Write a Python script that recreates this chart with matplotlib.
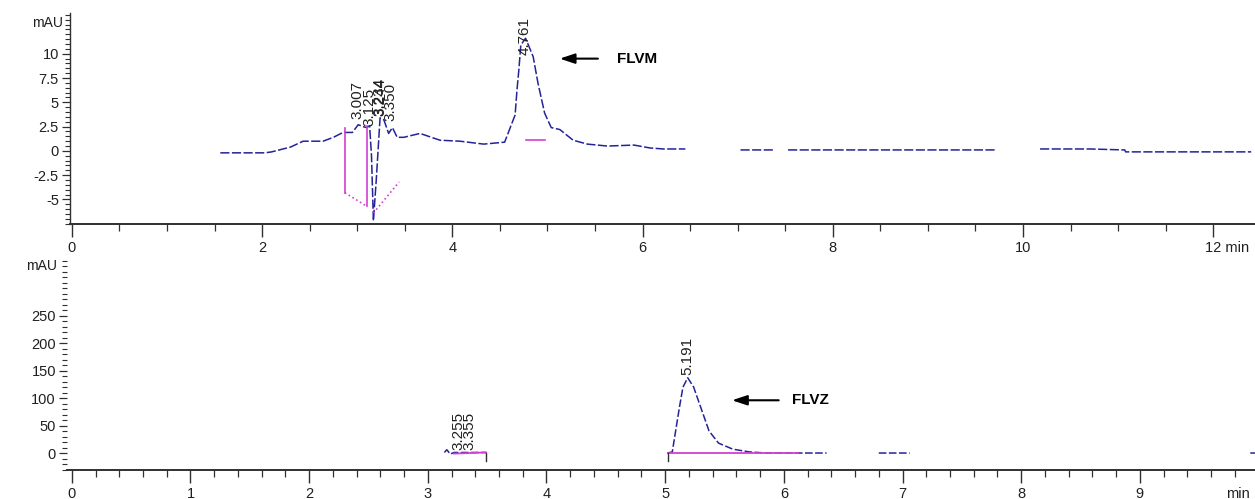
import numpy as np
import matplotlib
matplotlib.use("Agg")
import matplotlib.pyplot as plt
from matplotlib.ticker import MultipleLocator, FixedLocator, FixedFormatter
from matplotlib.transforms import blended_transform_factory

plt.rcParams['font.family'] = ['Liberation Sans', 'DejaVu Sans']

nan = np.nan
# ---------------- top chromatogram (FLVM) ----------------
top_t = [1.56, 2.03, 2.10, 2.30, 2.43, 2.64, 2.75, 2.85, 2.95, 3.01, 3.06, 3.10, 3.13,
         3.15, 3.17, 3.20, 3.24, 3.28, 3.33, 3.37, 3.42, 3.49, 3.66, 3.87, 4.08, 4.33,
         4.55, 4.66, 4.68, 4.70, 4.72, 4.77, 4.85, 4.90, 4.97, 5.04, 5.13, 5.27, 5.42,
         5.63, 5.91, 6.08, 6.22, 6.45, nan, 7.03, 7.37, nan, 7.53, 9.72, nan, 10.18,
         10.70, 11.07, 11.08, 12.40]
top_y = [-0.2, -0.2, -0.1, 0.4, 1.0, 1.0, 1.4, 1.9, 1.9, 2.7, 2.5, 2.4, 2.6,
         -0.5, -7.2, -3.0, 3.4, 3.2, 1.8, 2.4, 1.4, 1.4, 1.8, 1.1, 1.0, 0.7,
         0.9, 3.7, 6.3, 8.4, 10.9, 11.6, 9.7, 7.0, 3.9, 2.4, 2.2, 1.1, 0.7,
         0.5, 0.6, 0.3, 0.2, 0.2, nan, 0.1, 0.1, nan, 0.1, 0.1, nan, 0.2,
         0.2, 0.1, -0.1, -0.1]
top_peak_rt = [3.007, 3.125, 3.234, 3.244, 3.350, 4.761]
top_peak_lab = ['3.007', '3.125', '3.234', '3.244', '3.350', '4.761']
top_peak_ytext = [3.3, 2.6, 3.6, 3.6, 3.1, 9.9]
# integration baselines (x0, y0, x1, y1, style)
top_base_x0 = [2.87, 2.87, 3.10, 3.17, 4.77]
top_base_y0 = [2.4, -4.3, 2.6, -6.4, 1.1]
top_base_x1 = [2.87, 3.10, 3.10, 3.44, 4.97]
top_base_y1 = [-4.3, -5.7, -5.7, -3.2, 1.1]
top_base_ls = ['-', ':', '-', ':', '-']

top_yticks = [-5, -2.5, 0, 2.5, 5, 7.5, 10]
top_yticklabels = ['-5', '-2.5', '0', '2.5', '5', '7.5', '10']
top_xticks = [0, 2, 4, 6, 8, 10, 12]
top_xticklabels = ['0', '2', '4', '6', '8', '10', '']
top_last_label = '12 min'

# ---------------- bottom chromatogram (FLVZ) ----------------
bot_t = [3.14, 3.16, 3.19, 3.22, 3.49, nan, 5.02, 5.06, 5.12, 5.15, 5.19, 5.24, 5.30,
         5.37, 5.45, 5.57, 5.71, 5.85, 6.36, nan, 6.80, 7.06, nan, 9.93, 9.97]
bot_y = [1, 6, -2, 1, 1, nan, 0, 2, 83, 120, 137, 120, 83,
         40, 18, 7, 2, 0, 0, nan, 0, 0, nan, 0, 0]
bot_peak_rt = [3.255, 3.355, 5.191]
bot_peak_lab = ['3.255', '3.355', '5.191']
bot_peak_ytext = [6, 6, 142]
bot_base_x0 = [3.22, 5.02]
bot_base_y0 = [-1, 0]
bot_base_x1 = [3.49, 6.12]
bot_base_y1 = [1, 0]
bot_drop_x = [3.49, 5.02]

bot_yticks = [0, 50, 100, 150, 200, 250]
bot_yticklabels = ['0', '50', '100', '150', '200', '250']
bot_xticks = [0, 1, 2, 3, 4, 5, 6, 7, 8, 9]
bot_xticklabels = ['0', '1', '2', '3', '4', '5', '6', '7', '8', '9']
bot_last_label = 'min'

TRACE = '#23239a'
BASE = '#d23fd2'
AXC = '#303030'

fig = plt.figure(figsize=(12.55, 4.99), dpi=100)
ax1 = fig.add_axes([0.0558, 0.551, 0.9442, 0.423])
ax2 = fig.add_axes([0.0534, 0.058, 0.9466, 0.425])

for ax in (ax1, ax2):
    for s in ('top', 'right'):
        ax.spines[s].set_visible(False)
    ax.spines['bottom'].set_color(AXC)
    ax.spines['bottom'].set_linewidth(1.4)
    ax.spines['left'].set_color(AXC)
    ax.spines['left'].set_linewidth(1.0)
    ax.tick_params(axis='both', which='major', direction='out', color=AXC,
                   labelsize=10.5, labelcolor='#202020')
    ax.tick_params(axis='x', which='major', length=9, width=1.0, pad=3)
    ax.tick_params(axis='x', which='minor', length=5, width=0.9, color=AXC)
    ax.tick_params(axis='y', which='major', length=6, width=0.9, pad=2)
    ax.tick_params(axis='y', which='minor', length=3.5, width=0.8, color=AXC)

# ---- top ----
ax1.plot(top_t, top_y, color=TRACE, lw=1.1, ls=(0, (6, 1.6)))
for x0, y0, x1, y1, ls in zip(top_base_x0, top_base_y0, top_base_x1, top_base_y1, top_base_ls):
    ax1.plot([x0, x1], [y0, y1], color=BASE, lw=1.2, ls=ls)
for rt, lab, yt in zip(top_peak_rt, top_peak_lab, top_peak_ytext):
    ax1.text(rt, yt, lab, rotation=90, ha='center', va='bottom', fontsize=11, color='#202020')
ax1.annotate('', xy=(5.10, 9.5), xytext=(5.56, 9.5),
             arrowprops=dict(arrowstyle='-|>,head_length=0.9,head_width=0.3', color='black', lw=1.5))
ax1.text(5.73, 9.5, 'FLVM', fontsize=11, fontweight='bold', va='center', ha='left')
ax1.set_xlim(-0.02, 12.44)
ax1.set_ylim(-7.53, 14.2)
ax1.xaxis.set_major_locator(FixedLocator(top_xticks))
ax1.xaxis.set_major_formatter(FixedFormatter(top_xticklabels))
ax1.xaxis.set_minor_locator(MultipleLocator(0.5))
ax1.yaxis.set_major_locator(FixedLocator(top_yticks))
ax1.yaxis.set_major_formatter(FixedFormatter(top_yticklabels))
ax1.yaxis.set_minor_locator(MultipleLocator(0.5))
trx1 = blended_transform_factory(ax1.transData, ax1.transAxes)
ax1.annotate(top_last_label, xy=(11.91, 0), xycoords=trx1, xytext=(0, -12),
             textcoords='offset points', ha='left', va='top', fontsize=10.5, color='#202020')
tr1 = blended_transform_factory(ax1.transAxes, ax1.transData)
ax1.text(-0.006, 13.2, 'mAU', transform=tr1, ha='right', va='center', fontsize=10, color='#202020')

# ---- bottom ----
ax2.spines['left'].set_visible(False)
ax2.plot(bot_t, bot_y, color=TRACE, lw=1.1, ls=(0, (5, 1.6)))
for x0, y0, x1, y1 in zip(bot_base_x0, bot_base_y0, bot_base_x1, bot_base_y1):
    ax2.plot([x0, x1], [y0, y1], color=BASE, lw=1.3)
for xd in bot_drop_x:
    ax2.plot([xd, xd], [0, -14], color='#303030', lw=1.0)
for rt, lab, yt in zip(bot_peak_rt, bot_peak_lab, bot_peak_ytext):
    ax2.text(rt, yt, lab, rotation=90, ha='center', va='bottom', fontsize=11, color='#202020')
ax2.annotate('', xy=(5.54, 96), xytext=(5.98, 96),
             arrowprops=dict(arrowstyle='-|>,head_length=0.9,head_width=0.3', color='black', lw=1.5))
ax2.text(6.07, 96, 'FLVZ', fontsize=11, fontweight='bold', va='center', ha='left')
ax2.set_xlim(-0.04, 9.97)
ax2.set_ylim(-31, 355)
ax2.xaxis.set_major_locator(FixedLocator(bot_xticks))
ax2.xaxis.set_major_formatter(FixedFormatter(bot_xticklabels))
ax2.xaxis.set_minor_locator(MultipleLocator(0.2))
ax2.yaxis.set_major_locator(FixedLocator(bot_yticks))
ax2.yaxis.set_major_formatter(FixedFormatter(bot_yticklabels))
ax2.yaxis.set_minor_locator(MultipleLocator(10))
trx2 = blended_transform_factory(ax2.transData, ax2.transAxes)
ax2.annotate(bot_last_label, xy=(9.83, 0), xycoords=trx2, xytext=(0, -12),
             textcoords='offset points', ha='center', va='top', fontsize=10.5, color='#202020')
tr2 = blended_transform_factory(ax2.transAxes, ax2.transData)
ax2.text(-0.008, 340, 'mAU', transform=tr2, ha='right', va='center', fontsize=10, color='#202020')

fig.savefig('out.png', dpi=100)
